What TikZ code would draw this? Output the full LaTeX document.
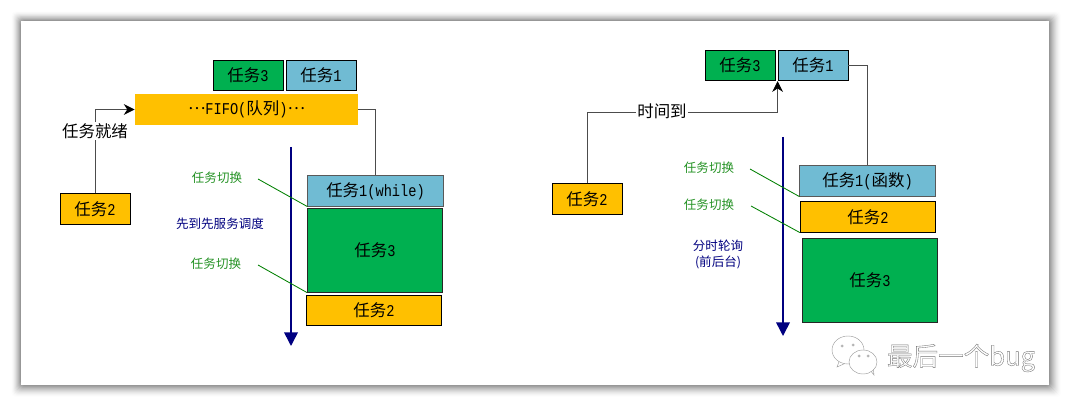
\documentclass[tikz,border=0pt]{standalone}
\usepackage{fontspec}
\setmainfont[FakeStretch=0.83]{Liberation Mono}
\newfontfamily\cjk{Noto Sans CJK SC}
\usetikzlibrary{arrows.meta}

\definecolor{taskgreen}{HTML}{00B050}
\definecolor{taskyellow}{HTML}{FFC000}
\definecolor{taskblue}{HTML}{70BBD3}
\definecolor{switchgreen}{HTML}{008000}

\newcommand{\middots}{\raisebox{0.33em}{\cjk …}}

\begin{document}
\begin{tikzpicture}[
        x=0.025cm, y=-0.025cm,
        shortbox/.style={draw=black, line width=0.6pt, inner sep=0pt, minimum width=1.75cm, minimum height=0.76cm, font=\fontsize{11.7}{12}\selectfont},
        widebox/.style={shortbox, minimum width=3.38cm},
        tallbox/.style={widebox, minimum height=2.08cm},
        wire/.style={black!70, line width=0.6pt},
        wirearrow/.style={wire, -{Stealth[length=0.27cm, width=0.27cm, color=black]}},
        timearrow/.style={blue!50!black, line width=1.1pt, -{Stealth[length=0.34cm, width=0.34cm, inset=0pt]}},
        switchline/.style={switchgreen, line width=0.6pt},
        switchlabel/.style={text=switchgreen!85, font=\fontsize{8.9}{10}\selectfont},
        planlabel/.style={text=blue!50!black, align=center, font=\fontsize{8.9}{12}\selectfont},
        wirelabel/.style={fill=white, inner sep=1pt, font=\fontsize{11.7}{12}\selectfont},
        bubble/.style={draw=black!40, line width=0.3pt, fill=white}
    ]
    \useasboundingbox (0,0) rectangle (1070,406);

    % panel and its shadow
    \foreach \d in {12,11,...,1}
        \pgfmathsetmacro{\fade}{0.0065*(13-\d)}
        \fill[black, opacity=\fade, rounded corners=3pt] (21-0.8*\d,21-0.8*\d) rectangle (1049+\d,385+\d);
    \fill[white] (21,21) rectangle (1049,385);

    % ==========================================
    % LEFT: FIFO
    % ==========================================
    \node[shortbox, fill=taskgreen] (waitthree) at (248,75.5) {{\cjk 任务}3};
    \node[shortbox, fill=taskblue] (waitone) at (321,75.5) {{\cjk 任务}1};
    \node[fill=taskyellow, inner sep=0pt, minimum width=5.58cm, minimum height=0.77cm, font=\fontsize{11.7}{12}\selectfont] (fifo) at (246.5,109.5) {\middots FIFO({\cjk 队列})\middots};
    \node[shortbox, fill=taskyellow] (readytwo) at (95,209) {{\cjk 任务}2};

    \node[widebox, draw=black!65, fill=taskblue] (runwhile) at (375.5,191) {{\cjk 任务}1(while)};
    \node[tallbox, draw=black!85, fill=taskgreen] (runthree) at (375,250.5) {{\cjk 任务}3};
    \node[widebox, fill=taskyellow] (runtwo) at (374,310.5) {{\cjk 任务}2};

    \draw[wirearrow] (readytwo.north) |- (fifo.west);
    \node[wirelabel] (readylabel) at (95,131) {\cjk 任务就绪};
    \draw[wire] (fifo.east) -| (runwhile.north);

    \coordinate (axistop) at (291,147);
    \coordinate (axisend) at (291,346);
    \draw[timearrow] (axistop) -- (axisend);

    \coordinate (switchone) at (258,179);
    \coordinate (switchtwo) at (258,265);
    \draw[switchline] (switchone) -- (runwhile.south west);
    \draw[switchline] (switchtwo) -- (runthree.south west);
    \node[switchlabel] (switchonelabel) at (217,178) {\cjk 任务切换};
    \node[switchlabel] (switchtwolabel) at (216,264) {\cjk 任务切换};
    \node[planlabel] (fcfslabel) at (220,223.5) {\cjk 先到先服务调度};

    % ==========================================
    % RIGHT: time slice
    % ==========================================
    \node[shortbox, fill=taskgreen] (slicethree) at (740,65.5) {{\cjk 任务}3};
    \node[shortbox, fill=taskblue] (sliceone) at (813,65.5) {{\cjk 任务}1};
    \node[shortbox, fill=taskyellow] (slicetwo) at (587,199) {{\cjk 任务}2};

    \node[widebox, draw=black!65, fill=taskblue] (funcone) at (867.5,181) {{\cjk 任务}1({\cjk 函数})};
    \node[widebox, fill=taskyellow] (functwo) at (868,217) {{\cjk 任务}2};
    \node[tallbox, draw=black!85, fill=taskgreen] (functhree) at (870,280.5) {{\cjk 任务}3};

    \coordinate (timebend) at (587,112);
    \draw[wirearrow] (slicetwo.north) -- (timebend) -| (sliceone.south west);
    \node[wirelabel] (timelabel) at (662,111) {\cjk 时间到};
    \draw[wire] (sliceone.east) -| (funcone.north);

    \coordinate (sliceaxistop) at (783,137);
    \coordinate (sliceaxisend) at (783,336);
    \draw[timearrow] (sliceaxistop) -- (sliceaxisend);

    \coordinate (sliceswitchone) at (750,169);
    \coordinate (sliceswitchtwo) at (751,206);
    \draw[switchline] (sliceswitchone) -- (funcone.south west);
    \draw[switchline] (sliceswitchtwo) -- (functwo.south west);
    \node[switchlabel] (sliceonelabel) at (709,168) {\cjk 任务切换};
    \node[switchlabel] (slicetwolabel) at (709,205) {\cjk 任务切换};
    \node[planlabel] (polllabel) at (718,254.5) {\cjk 分时轮询\\\cjk (前后台)};

    % watermark
    \draw[bubble] (840,359) -- (837,367) -- (846,363);
    \draw[bubble] (848,350) ellipse (16 and 14);
    \draw[bubble] (870,370) -- (874,375) -- (873,366);
    \draw[bubble] (863,362) ellipse (14 and 12);
    \foreach \ex/\ey in {842/346, 853/345, 859/356, 868/356}
        \draw[black!40, line width=0.3pt] (\ex,\ey) circle (1.2);
    \node[font=\fontsize{18.2}{20}\selectfont, inner sep=0pt] (marklabel) at (961,358) {\special{pdf:code q 1 Tr 0.25 w 0.45 G}\cjk 最后一个bug\special{pdf:code Q}};
\end{tikzpicture}
\end{document}
